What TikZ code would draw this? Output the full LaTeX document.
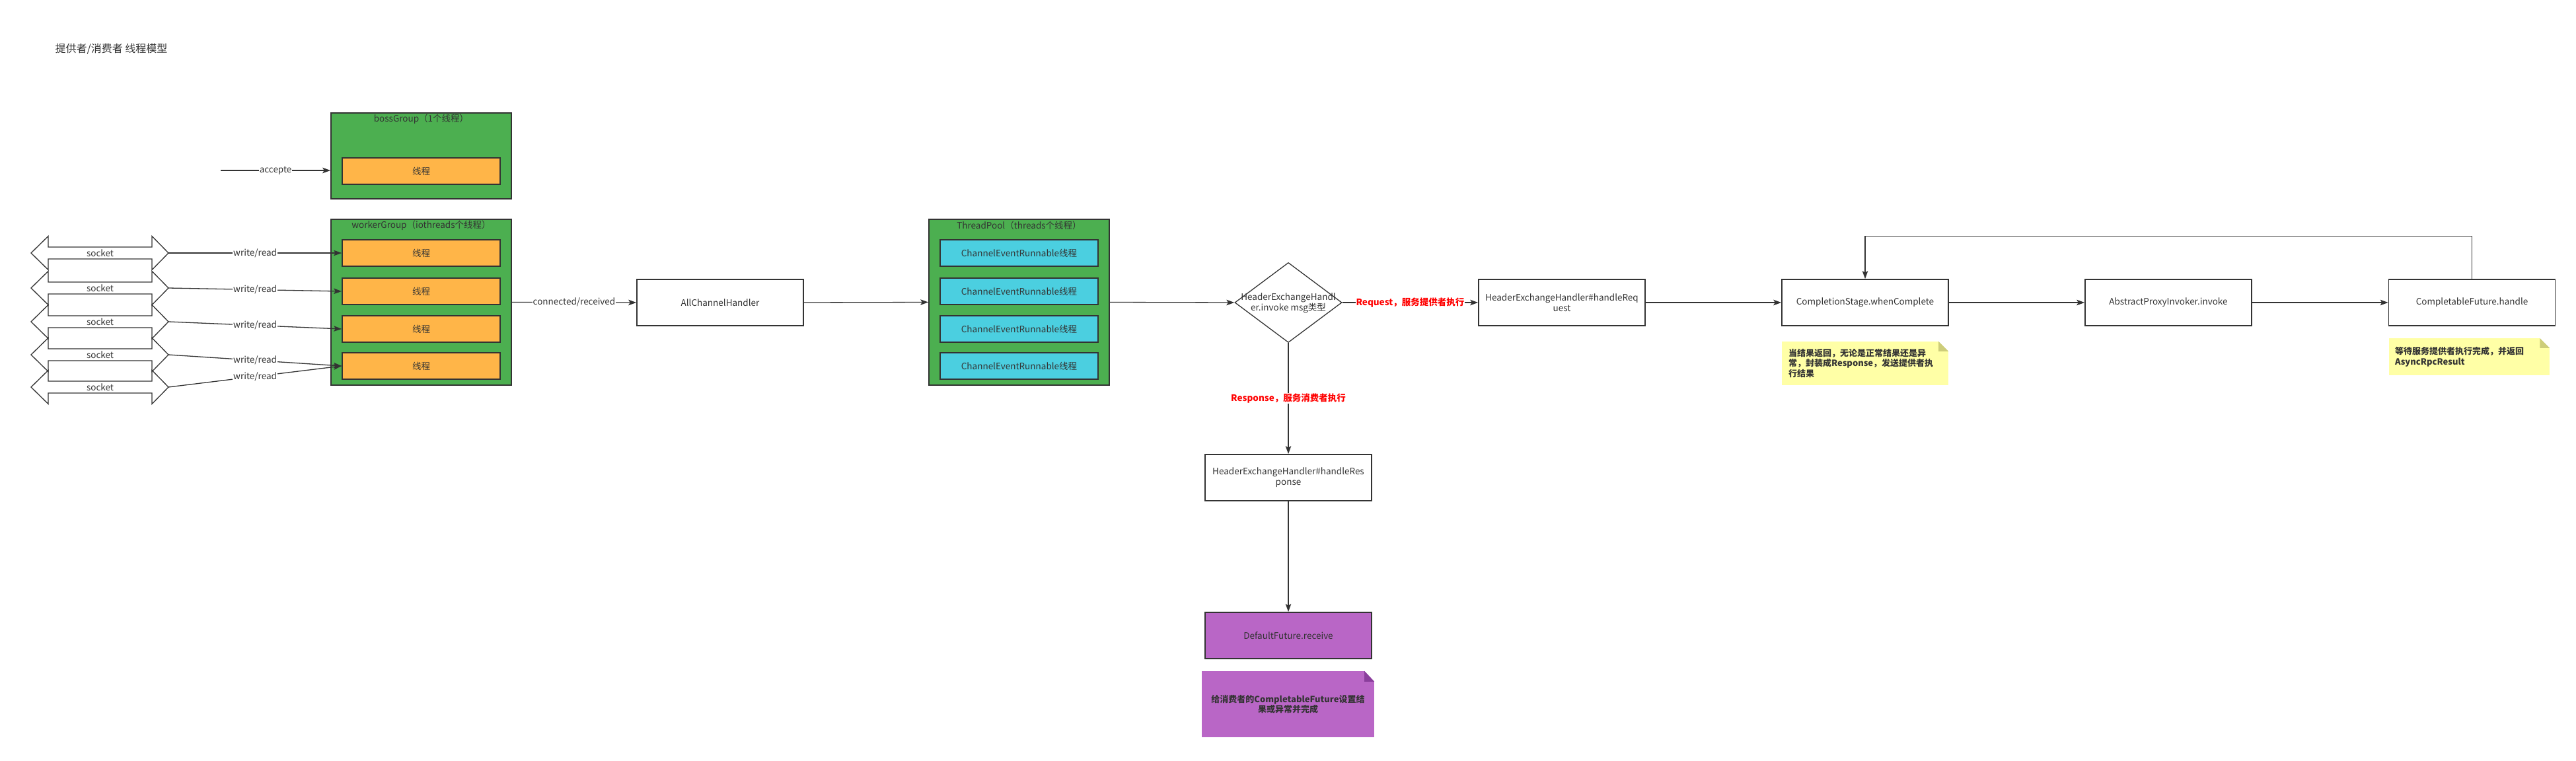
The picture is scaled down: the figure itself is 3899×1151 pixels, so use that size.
\documentclass[tikz,border=0pt]{standalone}
\usepackage{fontspec}
\setmainfont{Noto Sans CJK SC}
\usetikzlibrary{arrows.meta,shapes.geometric}
\definecolor{dk}{HTML}{333333}
\definecolor{grn}{HTML}{4CAF50}
\definecolor{org}{HTML}{FFB548}
\definecolor{cyn}{HTML}{4BCFE0}
\definecolor{pur}{HTML}{B966C6}
\definecolor{purd}{HTML}{8A3E9C}
\definecolor{yel}{HTML}{FFFFA6}
\definecolor{yeld}{HTML}{CDCD7A}
\definecolor{rd}{HTML}{FF0000}
\tikzset{
  every node/.style={font=\fontsize{13.5}{16}\selectfont, text=dk},
  grp/.style={draw=dk, line width=1.6pt, fill=grn, minimum width=273pt, inner sep=0pt},
  thr/.style={draw=dk, line width=1.6pt, fill=org, minimum width=239pt, minimum height=40pt, inner sep=0pt},
  cer/.style={draw=dk, line width=1.6pt, fill=cyn, minimum width=239pt, minimum height=40pt, inner sep=0pt},
  bx/.style={draw=dk, line width=1.6pt, fill=white, minimum width=252pt, minimum height=70pt, inner sep=0pt, align=center},
  conn/.style={draw=dk, line width=1.3pt, -{Stealth[length=12pt,width=8.5pt,inset=2.5pt]}},
  lbl/.style={fill=white, inner sep=1pt},
  rlbl/.style={fill=white, inner sep=1pt, text=rd, font=\fontsize{13.5}{16}\selectfont\bfseries},
  notetext/.style={font=\fontsize{13}{15.7}\selectfont\bfseries},
  sock/.style={draw=dk, line width=1.3pt, fill=white},
}
\begin{document}
\begin{tikzpicture}[x=1pt,y=-1pt]
\useasboundingbox (0,0) rectangle (3899,1151);
\fill[white] (0,0) rectangle (3899,1151);

% title
\node[anchor=west, font=\fontsize{16}{19}\selectfont] (title) at (80,74.5) {提供者/消费者 线程模型};

% bossGroup
\node[grp, minimum height=130pt] (boss) at (637.5,236) {};
\node (bosst) at (637.5,180) {bossGroup（1个线程）};
\node[thr] (b1) at (637.5,259) {线程};

% workerGroup
\node[grp, minimum height=251pt] (worker) at (637.5,457.5) {};
\node (workert) at (637.5,341) {workerGroup（iothreads个线程）};
\node[thr] (w1) at (637.5,383) {线程};
\node[thr] (w2) at (637.5,441) {线程};
\node[thr] (w3) at (637.5,498) {线程};
\node[thr] (w4) at (637.5,554) {线程};

% ThreadPool
\node[grp, minimum height=251pt] (pool) at (1542.5,457.5) {};
\node (poolt) at (1542.5,341) {ThreadPool（threads个线程）};
\node[cer] (p1) at (1542.5,383) {ChannelEventRunnable线程};
\node[cer] (p2) at (1542.5,441) {ChannelEventRunnable线程};
\node[cer] (p3) at (1542.5,498) {ChannelEventRunnable线程};
\node[cer] (p4) at (1542.5,554) {ChannelEventRunnable线程};

% sockets
\foreach \i/\c in {1/383,2/436,3/487,4/537,5/586}{
  \draw[sock] (73,\c-9) -- (73,\c-25.5) -- (47,\c) -- (73,\c+25.5) -- (73,\c+9)
     -- (230,\c+9) -- (230,\c+25.5) -- (255,\c) -- (230,\c-25.5) -- (230,\c-9) -- cycle;
  \node (sl\i) at (151.5,\c) {socket};
  \coordinate (s\i) at (255,\c);
}

% accept
\coordinate (acc) at (334,258);
\draw[conn] (acc) -- node[lbl]{accepte} (acc -| boss.west);

% write/read
\draw[conn] (s1) -- node[lbl]{write/read} (w1.west);
\draw[conn] (s2) -- node[lbl]{write/read} (w2.west);
\draw[conn] (s3) -- node[lbl]{write/read} (w3.west);
\draw[conn] (s4) -- node[lbl]{write/read} (w4.west);
\draw[conn] (s5) -- node[lbl]{write/read} (w4.west);

% main flow
\node[bx] (ach) at (1090,458) {AllChannelHandler};
\draw[conn] (worker.east) -- node[lbl]{connected/received} (ach.west);
\draw[conn] (ach.east) -- (pool.west);

\node[diamond, draw=dk, line width=1.3pt, fill=white, minimum width=162pt, minimum height=121pt, inner sep=0pt] (dia) at (1950,458) {};
\node[align=center] (diat) at (1950,459) {HeaderExchangeHandl\\er.invoke msg类型};
\draw[conn] (pool.east) -- (dia.west);

\node[bx] (hreq) at (2364,458) {HeaderExchangeHandler\#handleReq\\uest};
\draw[conn] (dia.east) -- node[rlbl]{Request，服务提供者执行} (hreq.west);

\node[bx] (cs) at (2823,458) {CompletionStage.whenComplete};
\node[bx] (api) at (3282,458) {AbstractProxyInvoker.invoke};
\node[bx] (cf) at (3741.5,458) {CompletableFuture.handle};
\draw[conn] (hreq.east) -- (cs.west);
\draw[conn] (cs.east) -- (api.west);
\draw[conn] (api.east) -- (cf.west);
\draw[conn] (cf.north) -- ++(0,-65) -| (cs.north);

\node[bx] (hres) at (1950,723) {HeaderExchangeHandler\#handleRes\\ponse};
\draw[conn] (dia.south) -- node[rlbl]{Response，服务消费者执行} (hres.north);
\node[bx, fill=pur] (df) at (1950,962) {DefaultFuture.receive};
\draw[conn] (hres.south) -- (df.north);

% notes
\node[fill=yel, minimum width=252pt, minimum height=66pt, inner xsep=10pt, inner ysep=0pt, text width=232pt, align=left, notetext] (n1) at (2823,550)
  {当结果返回，无论是正常结果还是异\\常，封装成Response，发送提供者执\\行结果};
\fill[white] (n1.north east) -- ++(-15,0) -- ++(15,15) -- cycle;
\fill[yeld] (n1.north east) ++(-15,0) -- ++(0,15) -- ++(15,0) -- cycle;

\node[fill=yel, minimum width=243pt, minimum height=56pt, inner xsep=9pt, inner ysep=0pt, text width=225pt, align=left, notetext] (n2) at (3737.5,540)
  {等待服务提供者执行完成，并返回\\AsyncRpcResult};
\fill[white] (n2.north east) -- ++(-15,0) -- ++(15,15) -- cycle;
\fill[yeld] (n2.north east) ++(-15,0) -- ++(0,15) -- ++(15,0) -- cycle;

\node[fill=pur, minimum width=261pt, minimum height=100pt, inner xsep=6pt, inner ysep=0pt, text width=249pt, align=center, notetext] (n3) at (1949.5,1066)
  {给消费者的CompletableFuture设置结\\果或异常并完成};
\fill[white] (n3.north east) -- ++(-15,0) -- ++(15,16) -- cycle;
\fill[purd] (n3.north east) ++(-15,0) -- ++(0,16) -- ++(15,0) -- cycle;
\end{tikzpicture}
\end{document}
